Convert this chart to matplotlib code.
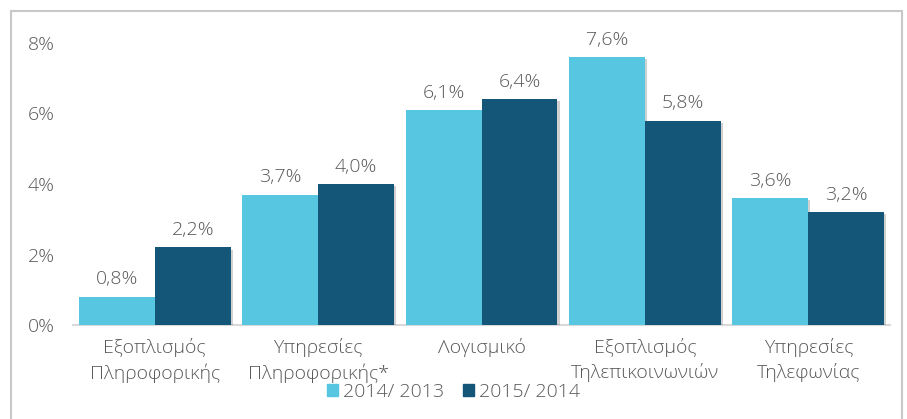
import matplotlib
matplotlib.use("Agg")
import matplotlib.pyplot as plt
import matplotlib.patches as mpatches
import matplotlib.patheffects as pe
import numpy as np

plt.rcParams['font.family'] = ['Open Sans', 'DejaVu Sans']
plt.rcParams['font.weight'] = 'light'

categories = ["Εξοπλισμός\nΠληροφορικής", "Υπηρεσίες\nΠληροφορικής*", "Λογισμικό",
              "Εξοπλισμός\nΤηλεπικοινωνιών", "Υπηρεσίες\nΤηλεφωνίας"]
series_names = ["2014/ 2013", "2015/ 2014"]
values_2014 = [0.8, 3.7, 6.1, 7.6, 3.6]
values_2015 = [2.2, 4.0, 6.4, 5.8, 3.2]
yticks = [0, 2, 4, 6, 8]

c_light = "#56C6E1"
c_dark = "#135677"
txt = "#595959"
fs = 14

W, H = 907, 419
fig = plt.figure(figsize=(W/100, H/100), dpi=100)
ax = fig.add_axes([73/W, (H-325)/H, (890-73)/W, (325-43)/H])

x = np.arange(len(categories))
bw = 0.465
shadow = [pe.SimplePatchShadow(offset=(1.5, -1.5), shadow_rgbFace="#000000", alpha=0.18), pe.Normal()]
b1 = ax.bar(x - bw/2, values_2014, bw, color=c_light, label=series_names[0], zorder=3)
b2 = ax.bar(x + bw/2, values_2015, bw, color=c_dark, label=series_names[1], zorder=3)
for bars in (b1, b2):
    for p in bars:
        p.set_path_effects(shadow)

for bars, vals in ((b1, values_2014), (b2, values_2015)):
    for p, v in zip(bars, vals):
        ax.annotate(f"{v:.1f}%".replace(".", ","), (p.get_x() + p.get_width()/2, v),
                    xytext=(0, 6), textcoords="offset points", ha="center", va="bottom",
                    fontsize=fs, color=txt)

ax.set_xlim(-0.5, len(categories) - 0.5)
ax.set_ylim(0, 8)
ax.set_yticks(yticks)
ax.set_yticklabels([f"{t}%" for t in yticks])
ax.set_xticks(x)
ax.set_xticklabels(categories, linespacing=1.45)
ax.tick_params(axis='both', length=0, labelsize=fs, colors=txt)
ax.tick_params(axis='y', pad=13)
ax.tick_params(axis='x', pad=9)
for s in ['top', 'right', 'left']:
    ax.spines[s].set_visible(False)
ax.spines['bottom'].set_color("#D9D9D9")
ax.spines['bottom'].set_linewidth(1.5)

leg = fig.legend(handles=[mpatches.Patch(color=c_light, label=series_names[0]),
                          mpatches.Patch(color=c_dark, label=series_names[1])],
                 loc="center", bbox_to_anchor=(0.5, (H-392)/H), ncol=2, frameon=False,
                 fontsize=fs, handlelength=0.55, handleheight=0.55, handletextpad=0.25,
                 columnspacing=1.0)
for t in leg.get_texts():
    t.set_color(txt)

border = mpatches.Rectangle((11/W, -0.1), (902-11)/W, (H-11)/H + 0.1, transform=fig.transFigure,
                            fill=False, edgecolor="#C8C8C8", linewidth=1.5, clip_on=False)
fig.patches.append(border)

fig.savefig("out.png", dpi=100)
